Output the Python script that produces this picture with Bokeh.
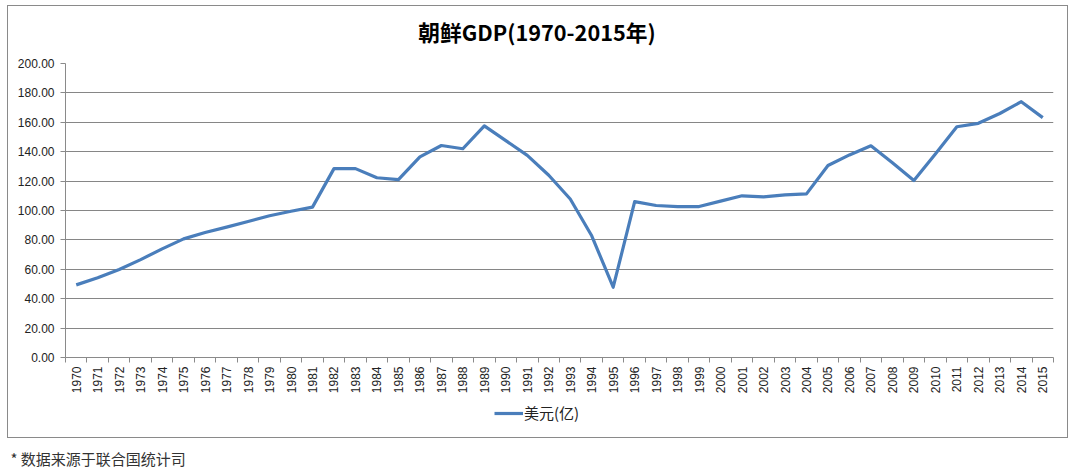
from bokeh.plotting import figure
from bokeh.models import (Range1d, FixedTicker, NumeralTickFormatter, Legend, LegendItem, Label)
from bokeh.layouts import column
from bokeh.embed import file_html
from bokeh.resources import INLINE
import math

years = [str(y) for y in range(1970, 2016)]
gdp = [49.4, 54.2, 59.9, 66.6, 73.9, 80.7, 85.0, 88.7, 92.5, 96.4, 99.5, 102.3,
       128.5, 128.5, 122.3, 121.0, 136.5, 144.2, 142.0, 157.6, 147.5, 137.5,
       124.0, 107.8, 82.8, 47.8, 106.0, 103.4, 102.7, 102.7, 106.4, 110.0,
       109.3, 110.6, 111.3, 130.6, 137.8, 144.0, 132.5, 120.4, 138.5, 157.0,
       159.3, 166.0, 174.0, 163.2]
series_name = "美元(亿)"
title_text = "朝鲜GDP(1970-2015年)"
note_text = "* 数据来源于联合国统计司"
y_ticks = [0, 20, 40, 60, 80, 100, 120, 140, 160, 180, 200]

LINE_COLOR = "#4A7EBB"
GRAY = "#8a8a8a"
xs = [i + 0.5 for i in range(len(years))]


def strip(width, height, **kw):
    f = figure(width=width, height=height, output_backend="svg", toolbar_location=None,
               x_range=Range1d(0, 1), y_range=Range1d(0, 1), **kw)
    f.axis.visible = False
    f.grid.grid_line_color = None
    f.outline_line_color = None
    f.background_fill_color = "white"
    f.border_fill_color = "white"
    return f


# ---------------- title strip (frame aligned with the chart frame) ----------------
p0 = strip(1059, 50, min_border_left=57, min_border_right=14, min_border_top=0, min_border_bottom=0)
p0.add_layout(Label(x=471.5, y=25, x_units="screen", y_units="screen", text=title_text,
                    text_font="Noto Sans CJK SC", text_font_size="21.7px",
                    text_font_style="bold", text_align="center", text_baseline="middle",
                    text_color="#000000"))

# ---------------- main chart ----------------
p = figure(width=1059, height=342, output_backend="svg", toolbar_location=None,
           x_range=Range1d(0, len(years)), y_range=Range1d(0, 200),
           min_border_left=57, min_border_right=14,
           min_border_top=7, min_border_bottom=41)
p.outline_line_color = None
p.background_fill_color = "white"
p.border_fill_color = "white"

main_line = p.line(xs, gdp, line_color=LINE_COLOR, line_width=3.2, line_join="round")

xa = p.xaxis[0]
xa.ticker = FixedTicker(ticks=xs, minor_ticks=list(range(0, len(years) + 1)))
xa.major_label_overrides = {x: y for x, y in zip(xs, years)}
xa.major_label_orientation = math.pi / 2
xa.major_tick_out = 0
xa.major_tick_in = 0
xa.minor_tick_out = 5
xa.minor_tick_in = 0
xa.minor_tick_line_color = GRAY
xa.axis_line_color = GRAY
xa.major_label_text_font = "Liberation Sans"
xa.major_label_text_font_size = "12px"
xa.major_label_text_color = "#222222"
xa.major_label_standoff = 4

ya = p.yaxis[0]
ya.ticker = FixedTicker(ticks=y_ticks)
ya.formatter = NumeralTickFormatter(format="0.00")
ya.major_tick_out = 5
ya.major_tick_in = 0
ya.minor_tick_line_color = None
ya.major_tick_line_color = GRAY
ya.axis_line_color = GRAY
ya.major_label_text_font = "Liberation Sans"
ya.major_label_text_font_size = "12px"
ya.major_label_text_color = "#222222"
ya.major_label_standoff = 6

p.xgrid.grid_line_color = None
p.ygrid.ticker = FixedTicker(ticks=y_ticks)
p.ygrid.grid_line_color = "#868686"
p.ygrid.grid_line_width = 1

# ---------------- legend strip ----------------
p2 = strip(1059, 39, min_border_left=57, min_border_right=14, min_border_top=0, min_border_bottom=0)
# legend proxy: same series, lies entirely outside this strip's ranges (not visible)
proxy = p2.line(xs, gdp, line_color=LINE_COLOR, line_width=3.2)
legend = Legend(items=[LegendItem(label=series_name, renderers=[proxy])],
                orientation="horizontal", location=(429, 14),
                border_line_color=None, background_fill_alpha=0,
                label_text_font="Noto Sans CJK SC", label_text_font_size="15px",
                label_text_color="#222222", glyph_width=29, glyph_height=16,
                label_standoff=1, padding=0, margin=0)
p2.add_layout(legend, "center")

inner = column(p0, p, p2, spacing=0, margin=(5, 0, 0, 7),
               styles={"border": "1px solid " + GRAY})

# ---------------- footnote ----------------
p3 = strip(1072, 33, min_border_left=0, min_border_right=0, min_border_top=0, min_border_bottom=0)
p3.add_layout(Label(x=10, y=13, x_units="screen", y_units="screen", text=note_text,
                    text_font="Noto Sans CJK SC", text_font_size="15px",
                    text_baseline="middle", text_color="#333333"))

layout = column(inner, p3, spacing=0)
open("out.html", "w").write(file_html(layout, INLINE))
